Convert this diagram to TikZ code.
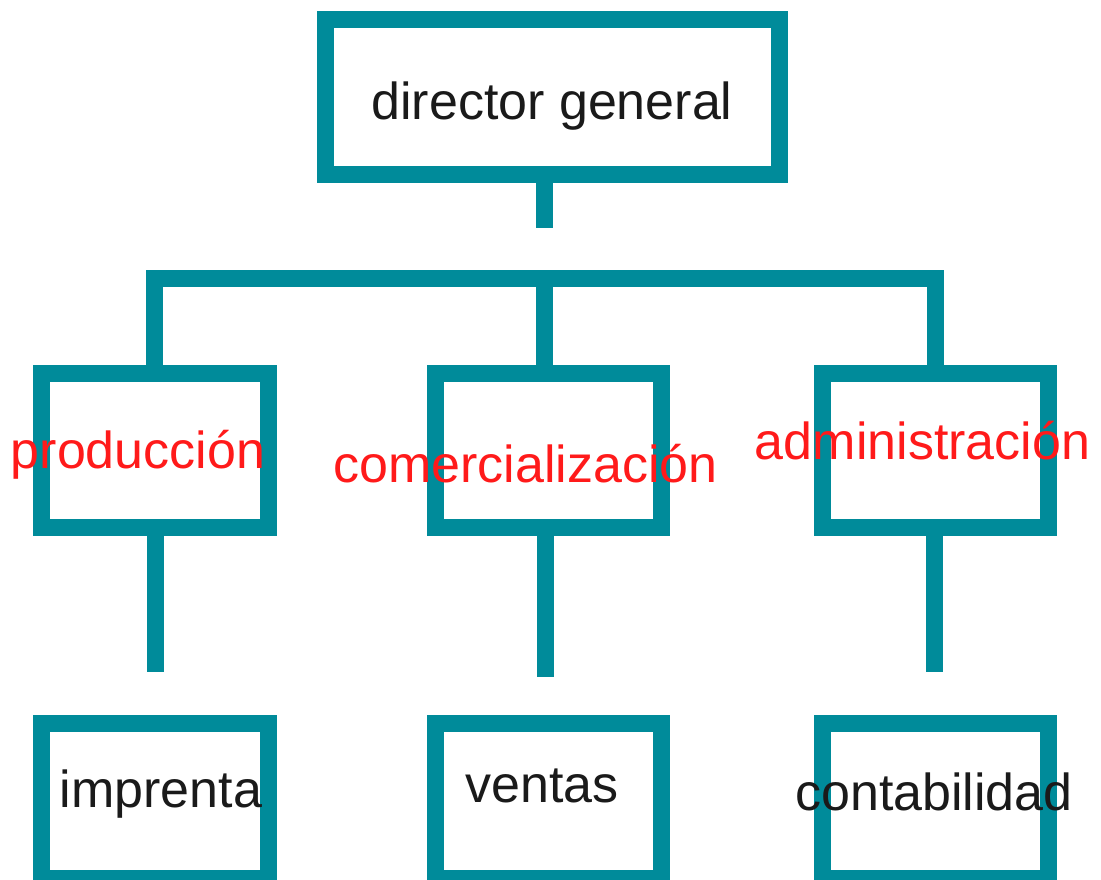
\documentclass[tikz,border=0pt]{standalone}
\usepackage{fontspec}
\setmainfont{Liberation Sans}
\usetikzlibrary{positioning, calc}
\definecolor{orgteal}{HTML}{008B9A}
\definecolor{orgred}{HTML}{FF1A1A}
\definecolor{orgblack}{HTML}{1A1A1A}

\begin{document}
\begin{tikzpicture}[
  x=1pt, y=-1pt,
  unit/.style={rectangle, draw=orgteal, line width=17pt, inner sep=0pt},
  link/.style={draw=orgteal, line width=17pt, line cap=butt, line join=miter},
  label/.style={inner sep=0pt, anchor=base, font=\fontsize{52}{60}\selectfont},
]
\useasboundingbox (0,0) rectangle (1101,879);

% top level
\node[unit, minimum width=454pt, minimum height=154.5pt] (dir) at (552.5, 96.75) {};

% departments
\node[unit, minimum width=227.5pt, minimum height=154pt] (prod) at (154.75, 450) {};
\node[unit, minimum width=226pt, minimum height=154pt] (com) at (548, 450) {};
\node[unit, minimum width=226pt, minimum height=154pt] (adm) at (935, 450) {};

% sections
\node[unit, minimum width=227.5pt, minimum height=155pt] (impr) at (154.75, 801) {};
\node[unit, minimum width=226pt, minimum height=155pt] (vent) at (548, 801) {};
\node[unit, minimum width=226pt, minimum height=155pt] (cont) at (935, 801) {};

% connectors
\coordinate (dirend) at (544.5, 228);
\coordinate (hub) at (544.5, 278.5);
\coordinate (prodend) at (155, 672);
\coordinate (comend) at (545, 677);
\coordinate (admend) at (934.5, 672);

\draw[link] (dirend |- dir.south) -- (dirend);
\draw[link] (prod.north) |- (hub) -| (adm.north);
\draw[link] (hub) -- (hub |- com.north);
\draw[link] (prodend |- prod.south) -- (prodend);
\draw[link] (comend |- com.south) -- (comend);
\draw[link] (admend |- adm.south) -- (admend);

% texts
\node[label, text=orgblack] (tdir) at (552, 119) {director general};
\node[label, text=orgred] (tprod) at (138, 468) {producción};
\node[label, text=orgred] (tcom) at (525.5, 482) {comercialización};
\node[label, text=orgred] (tadm) at (922.5, 459) {administración};
\node[label, text=orgblack] (timpr) at (161, 807) {imprenta};
\node[label, text=orgblack] (tvent) at (542, 802) {ventas};
\node[label, text=orgblack] (tcont) at (934, 810) {contabilidad};

\end{tikzpicture}
\end{document}
